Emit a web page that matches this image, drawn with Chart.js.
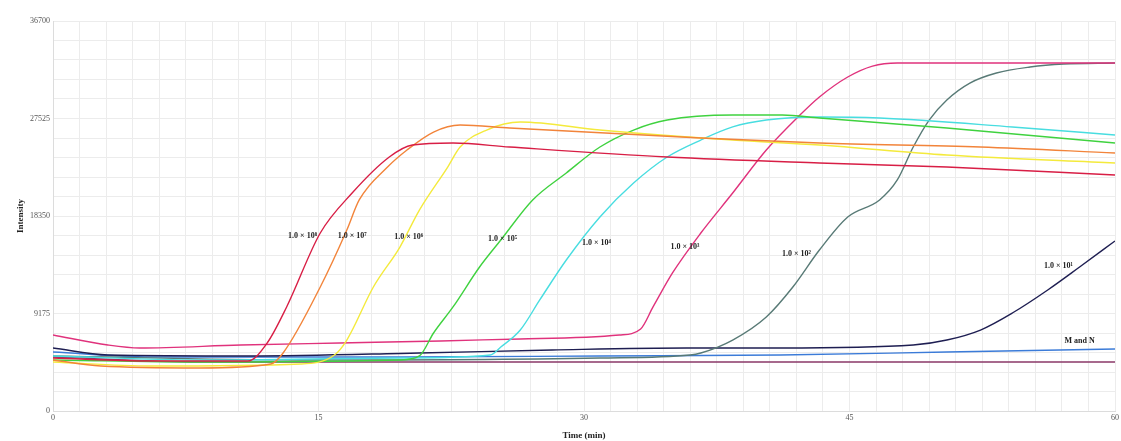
<!DOCTYPE html>
<html>
<head>
<meta charset="utf-8">
<script src="https://cdn.jsdelivr.net/npm/chart.js@4.4.0/dist/chart.umd.min.js"></script>
<style>
html,body{margin:0;padding:0;background:#fff;}
#wrap{width:1121px;height:441px;position:relative;}
</style>
</head>
<body>
<div id="wrap"><canvas id="c" width="1121" height="441"></canvas></div>
<script>
// ---- data (time in min, intensity) ----
const yTicks = [0, 9175, 18350, 27525, 36700];
const xTicks = [0, 15, 30, 45, 60];

const e8_t = [0, 5.5, 11.0, 12.1, 13.2, 15.1, 16.9, 19.0, 20.3, 22.6, 25.8, 34.7, 43.3, 50.5, 60];
const e8_v = [4990, 4700, 4700, 6400, 9790, 16750, 20510, 23900, 25030, 25220, 24840, 23900, 23340, 22960, 22210];

const e7_t = [0, 2.7, 8.3, 12.3, 13.0, 15.1, 16.6, 17.3, 18.9, 20.0, 21.5, 23.0, 25.8, 36.6, 43.3, 52.4, 60];
const e7_v = [4800, 4230, 4050, 4420, 5460, 11670, 17030, 19860, 22960, 24560, 26250, 26910, 26630, 25690, 25220, 24840, 24280];

const e6_t = [0, 5.5, 14.0, 15.9, 16.6, 18.1, 19.6, 20.7, 22.3, 23.0, 24.5, 26.4, 30.9, 38.4, 43.3, 50.5, 60];
const e6_v = [4610, 4230, 4420, 5270, 6680, 11670, 15430, 18910, 22960, 24840, 26440, 27190, 26440, 25500, 25030, 24090, 23340];

const e5_t = [0, 8.3, 19.6, 20.7, 21.5, 22.6, 24.1, 25.3, 27.1, 29.0, 30.9, 32.8, 34.7, 38.4, 41.2, 43.3, 50.5, 60];
const e5_v = [4800, 4610, 4800, 5180, 7340, 9790, 13550, 16090, 19860, 22400, 24840, 26440, 27380, 27850, 27850, 27570, 26630, 25220];

const e4_t = [0, 8.3, 19.6, 24.7, 25.3, 26.4, 27.5, 29.0, 30.9, 32.8, 34.7, 36.6, 38.4, 40.3, 43.3, 46.7, 54.2, 60];
const e4_v = [5180, 4800, 4990, 5270, 6020, 7620, 10450, 14210, 18260, 21450, 23900, 25500, 26730, 27380, 27670, 27570, 26730, 25970];

const e3_t = [0, 3.1, 4.9, 10.6, 16.2, 21.9, 26.4, 32.0, 33.2, 33.9, 35.0, 36.6, 38.4, 40.3, 42.2, 43.3, 44.9, 46.3, 47.7, 60];
const e3_v = [7150, 6210, 5930, 6210, 6400, 6590, 6780, 7150, 7720, 9790, 12990, 16750, 20510, 24560, 27850, 29550, 31430, 32460, 32750, 32750];

const e2_t = [0, 14.0, 30.9, 36.0, 36.6, 38.4, 40.3, 41.8, 43.3, 44.9, 46.7, 47.7, 48.6, 49.5, 50.5, 51.8, 53.3, 55.2, 57.1, 60];
const e2_v = [5180, 4800, 4990, 5270, 5460, 6680, 8850, 11670, 15150, 18260, 19860, 21740, 24840, 27380, 29270, 30860, 31810, 32370, 32650, 32750];

const e1_t = [0, 3.1, 11.1, 20.7, 28.2, 35.8, 41.1, 48.6, 50.5, 52.4, 54.2, 56.2, 58.0, 60];
const e1_v = [5930, 5270, 5180, 5460, 5740, 5930, 5930, 6210, 6680, 7620, 9220, 11390, 13550, 16000];

const mn1_t = [0, 5.5, 19.6, 30.9, 41.1, 50.5, 60];
const mn1_v = [5550, 5080, 5080, 5180, 5270, 5550, 5830];

const mn2_t = [0, 8.3, 30.0, 60];
const mn2_v = [5080, 4610, 4610, 4610];

// text labels: [text, time, intensity]
const labelText = ["1.0 × 10⁸", "1.0 × 10⁷", "1.0 × 10⁶", "1.0 × 10⁵", "1.0 × 10⁴", "1.0 × 10³", "1.0 × 10²", "1.0 × 10¹", "M and N"];
const labelT = [14.1, 16.9, 20.1, 25.4, 30.7, 35.7, 42.0, 56.8, 58.0];
const labelV = [16470, 16470, 16370, 16180, 15810, 15430, 14780, 13640, 6590];

function pts(t, v){ return t.map((x,i)=>({x:x, y:v[i]})); }

const series = [
  {label:'1.0×10^8', t:e8_t, v:e8_v, c:'#d81e45'},
  {label:'1.0×10^7', t:e7_t, v:e7_v, c:'#f2843a'},
  {label:'1.0×10^6', t:e6_t, v:e6_v, c:'#f4ea3c'},
  {label:'1.0×10^5', t:e5_t, v:e5_v, c:'#3fd23f'},
  {label:'1.0×10^4', t:e4_t, v:e4_v, c:'#48dde0'},
  {label:'1.0×10^3', t:e3_t, v:e3_v, c:'#e0327c'},
  {label:'1.0×10^2', t:e2_t, v:e2_v, c:'#587a76'},
  {label:'1.0×10^1', t:e1_t, v:e1_v, c:'#1e1e52'},
  {label:'M', t:mn1_t, v:mn1_v, c:'#3b7bd8'},
  {label:'N', t:mn2_t, v:mn2_v, c:'#8a3868'}
];

const labelPlugin = {
  id:'curveLabels',
  afterDatasetsDraw(chart){
    const ctx = chart.ctx, xs = chart.scales.x, ys = chart.scales.y;
    ctx.save();
    ctx.font = 'bold 8px "Liberation Serif", serif';
    ctx.fillStyle = '#222';
    ctx.textAlign = 'center';
    ctx.textBaseline = 'middle';
    labelText.forEach((s,i)=>{
      ctx.fillText(s, xs.getPixelForValue(labelT[i]), ys.getPixelForValue(labelV[i]));
    });
    ctx.restore();
  }
};

new Chart(document.getElementById('c'), {
  type:'line',
  data:{
    datasets: series.map(s=>({
      label:s.label,
      data:pts(s.t, s.v),
      borderColor:s.c,
      backgroundColor:s.c,
      borderWidth:1.4,
      pointRadius:0,
      fill:false,
      cubicInterpolationMode:'monotone'
    }))
  },
  options:{
    responsive:false,
    animation:false,
    layout:{padding:{top:21, right:6, left:15, bottom:0}},
    plugins:{legend:{display:false}, tooltip:{enabled:false}},
    scales:{
      x:{
        type:'linear', min:0, max:60,
        afterBuildTicks(axis){
          const arr=[]; for(let i=0;i<=40;i++) arr.push({value:i*1.5});
          axis.ticks = arr;
        },
        ticks:{
          autoSkip:false, maxRotation:0, padding:2,
          color:'#555', font:{family:'"Liberation Serif", serif', size:8},
          callback(v){ return xTicks.includes(Math.round(v*1000)/1000) ? String(Math.round(v)) : ''; }
        },
        grid:{color:'#ececec', drawTicks:false, lineWidth:1},
        border:{color:'#dcdcdc'},
        title:{display:true, text:'Time (min)', color:'#222', padding:{top:2,bottom:0},
          font:{family:'"Liberation Serif", serif', size:9, weight:'bold'}},
        afterFit(axis){ axis.height = 30; }
      },
      y:{
        type:'linear', min:0, max:36700,
        afterBuildTicks(axis){
          const arr=[]; for(let i=0;i<=20;i++) arr.push({value:i*1835});
          axis.ticks = arr;
        },
        ticks:{
          autoSkip:false, padding:3,
          color:'#555', font:{family:'"Liberation Serif", serif', size:8},
          callback(v){ return yTicks.includes(Math.round(v)) ? String(Math.round(v)) : ''; }
        },
        grid:{color:'#ececec', drawTicks:false, lineWidth:1},
        border:{color:'#dcdcdc'},
        title:{display:true, text:'Intensity', color:'#222', padding:{top:0,bottom:0},
          font:{family:'"Liberation Serif", serif', size:9, weight:'bold'}},
        afterFit(axis){ axis.width = 38; }
      }
    }
  },
  plugins:[labelPlugin]
});
</script>
</body>
</html>
